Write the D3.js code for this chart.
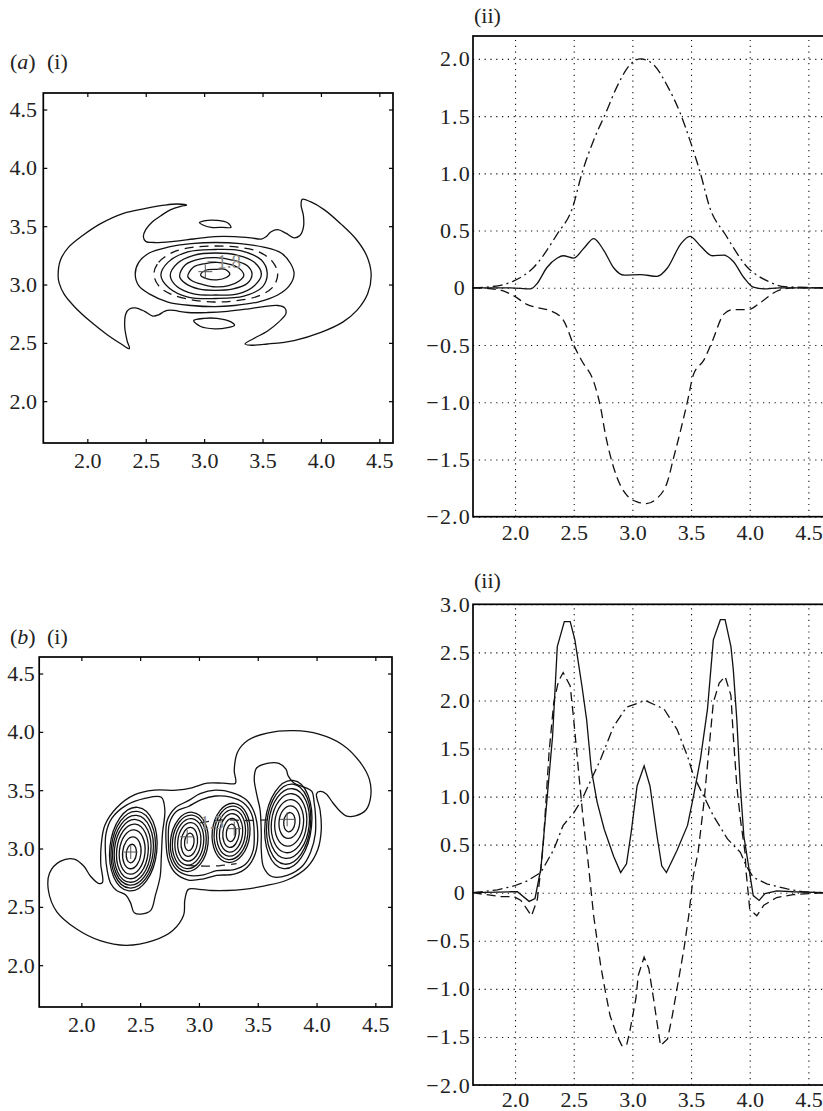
<!DOCTYPE html>
<html>
<head>
<meta charset="utf-8">
<script src="https://cdn.jsdelivr.net/npm/d3@7"></script>
<style>
body { margin: 0; background: #fff; }
text { font-family: "Liberation Serif", "Times New Roman", serif; font-size: 22px; fill: #222; }
.ylab text { letter-spacing: 1.2px; }
</style>
</head>
<body>
<svg id="fig" width="823" height="1111"></svg>
<script>
var svg = d3.select("#fig");

// tick values
var contourTicks = [2.0, 2.5, 3.0, 3.5, 4.0, 4.5];
var profileXTicks = [2.0, 2.5, 3.0, 3.5, 4.0, 4.5];
var profileYTicksA = [-2.0, -1.5, -1.0, -0.5, 0, 0.5, 1.0, 1.5, 2.0];
var profileYTicksB = [-2.0, -1.5, -1.0, -0.5, 0, 0.5, 1.0, 1.5, 2.0, 2.5, 3.0];

// (a)(i) contour lines, [x, y]
var aBat = [[1.75,3.07],[1.77,3.21],[1.84,3.32],[1.96,3.42],[2.11,3.52],[2.31,3.61],[2.49,3.65],[2.66,3.68],[2.77,3.69],[2.85,3.68],
  [2.80,3.67],[2.71,3.64],[2.63,3.59],[2.56,3.54],[2.50,3.47],[2.48,3.41],[2.50,3.37],[2.57,3.36],[2.74,3.37],[2.91,3.39],
  [3.09,3.41],[3.26,3.41],[3.40,3.40],[3.49,3.39],[3.53,3.41],[3.57,3.45],[3.63,3.47],[3.70,3.44],[3.77,3.40],[3.82,3.42],
  [3.85,3.49],[3.85,3.59],[3.83,3.68],[3.84,3.73],[3.91,3.71],[4.03,3.64],[4.17,3.52],[4.30,3.39],[4.39,3.25],[4.43,3.09],
  [4.40,2.92],[4.31,2.78],[4.19,2.68],[4.00,2.59],[3.77,2.52],[3.54,2.49],[3.39,2.48],[3.35,2.49],[3.43,2.54],[3.54,2.60],
  [3.64,2.68],[3.70,2.75],[3.69,2.80],[3.63,2.82],[3.51,2.81],[3.37,2.79],[3.20,2.77],[3.03,2.76],[2.86,2.76],[2.71,2.78],
  [2.66,2.77],[2.61,2.74],[2.56,2.73],[2.49,2.77],[2.41,2.80],[2.36,2.79],[2.33,2.75],[2.32,2.64],[2.34,2.52],[2.36,2.45],
  [2.29,2.49],[2.17,2.57],[2.03,2.68],[1.89,2.81],[1.80,2.92],[1.76,3.01]];
var aLensTop = [[2.96,3.53],[3.03,3.55],[3.11,3.55],[3.20,3.53],[3.23,3.49],[3.16,3.49],[3.06,3.49],[2.99,3.51]];
var aLensBottom = [[2.91,2.69],[3.00,2.71],[3.11,2.71],[3.23,2.68],[3.26,2.65],[3.20,2.63],[3.09,2.62],[2.97,2.64]];
var aOuterRing = [[2.41,3.09],[2.44,3.19],[2.53,3.27],[2.69,3.32],[2.89,3.35],[3.10,3.36],[3.31,3.35],[3.51,3.32],[3.66,3.27],[3.74,3.18],
  [3.77,3.09],[3.73,2.99],[3.63,2.91],[3.46,2.85],[3.26,2.82],[3.09,2.81],[2.89,2.82],[2.69,2.85],[2.53,2.92],[2.44,2.99]];
var aDashedRing = [[2.57,3.09],[2.61,3.19],[2.74,3.28],[2.91,3.32],[3.10,3.33],[3.29,3.32],[3.47,3.28],[3.59,3.19],[3.63,3.09],[3.59,2.98],
  [3.46,2.90],[3.26,2.86],[3.09,2.85],[2.89,2.87],[2.71,2.92],[2.61,2.99]];
var aRing4 = [[2.63,3.08],[2.69,3.19],[2.86,3.28],[3.09,3.30],[3.31,3.29],[3.49,3.21],[3.54,3.10],[3.50,2.98],[3.34,2.90],[3.10,2.88],[2.87,2.89],[2.70,2.97]];
var aRing3 = [[2.71,3.08],[2.77,3.18],[2.91,3.25],[3.10,3.27],[3.29,3.25],[3.43,3.19],[3.49,3.09],[3.43,2.99],[3.29,2.92],[3.10,2.91],[2.91,2.92],[2.77,2.98]];
var aRing2 = [[2.79,3.07],[2.84,3.17],[2.97,3.22],[3.10,3.23],[3.24,3.21],[3.37,3.16],[3.41,3.09],[3.37,3.01],[3.24,2.96],[3.10,2.95],[2.96,2.96],[2.84,3.01]];
var aRing1 = [[2.86,3.07],[2.91,3.15],[3.01,3.18],[3.11,3.19],[3.23,3.17],[3.31,3.13],[3.34,3.08],[3.30,3.03],[3.21,2.99],[3.10,2.98],[2.99,3.00],[2.90,3.03]];
var aRing0 = [[2.97,3.08],[3.01,3.12],[3.10,3.13],[3.18,3.13],[3.22,3.09],[3.19,3.06],[3.11,3.04],[3.02,3.05]];
var aCrosses = [[3.01,3.11]];
var aNotes = [{text: "\u22121.8", x: 3.02, y: 3.14}];

// (b)(i) contour lines
var bOuter = [[3.31,3.56],[3.30,3.67],[3.33,3.83],[3.42,3.93],[3.58,3.99],[3.81,4.01],[4.02,3.98],[4.22,3.89],[4.37,3.74],[4.45,3.59],
  [4.46,3.44],[4.42,3.33],[4.33,3.28],[4.25,3.28],[4.20,3.32],[4.14,3.39],[4.08,3.47],[4.03,3.49],[4.00,3.47],[4.03,3.33],
  [4.04,3.16],[4.01,2.99],[3.92,2.84],[3.75,2.73],[3.56,2.68],[3.38,2.65],[3.24,2.64],[3.11,2.64],[3.00,2.65],[2.91,2.65],
  [2.88,2.56],[2.87,2.43],[2.78,2.30],[2.61,2.21],[2.38,2.17],[2.16,2.21],[1.96,2.31],[1.79,2.46],[1.72,2.64],[1.73,2.79],
  [1.82,2.89],[1.94,2.91],[2.02,2.85],[2.08,2.76],[2.15,2.70],[2.18,2.71],[2.165,2.87],[2.17,3.04],[2.20,3.20],[2.30,3.35],
  [2.45,3.46],[2.62,3.50],[2.81,3.50],[2.94,3.52],[3.07,3.56],[3.21,3.56]];
var bLeftLoop = [[2.205,2.96],[2.21,3.13],[2.26,3.26],[2.38,3.37],[2.54,3.43],[2.68,3.44],[2.71,3.33],[2.69,3.13],[2.68,2.93],[2.67,2.76],
  [2.63,2.60],[2.59,2.47],[2.52,2.44],[2.45,2.45],[2.42,2.53],[2.38,2.60],[2.30,2.64],[2.25,2.70],[2.22,2.81]];
var bMidLoop = [[2.72,3.06],[2.73,3.24],[2.80,3.35],[2.91,3.41],[3.01,3.47],[3.14,3.50],[3.28,3.48],[3.40,3.42],[3.47,3.31],[3.50,3.13],
  [3.48,2.96],[3.41,2.84],[3.30,2.78],[3.15,2.77],[3.04,2.74],[2.91,2.73],[2.80,2.79],[2.74,2.90]];
var bMidInner = [[2.74,3.06],[2.75,3.22],[2.81,3.32],[2.91,3.36],[3.02,3.42],[3.14,3.45],[3.27,3.44],[3.38,3.39],[3.45,3.29],[3.47,3.13],
  [3.46,2.98],[3.40,2.87],[3.30,2.82],[3.15,2.81],[3.04,2.775],[2.91,2.77],[2.81,2.82],[2.755,2.92]];
var bRightLoop = [[3.53,3.13],[3.52,3.33],[3.49,3.47],[3.47,3.60],[3.49,3.69],[3.58,3.73],[3.68,3.73],[3.74,3.68],[3.76,3.62],[3.81,3.56],
  [3.91,3.52],[3.96,3.49],[3.98,3.39],[3.99,3.30],[3.99,3.13],[3.95,2.97],[3.88,2.85],[3.75,2.77],[3.62,2.76],[3.55,2.84],[3.53,2.99]];
// vortex cores: [cx, cy, rx, ry]
var bRings1 = [[2.425,2.957,0.043,0.080],[2.429,2.963,0.078,0.137],[2.432,2.970,0.109,0.190],[2.434,2.975,0.134,0.235],
  [2.436,2.980,0.155,0.270],[2.439,2.985,0.172,0.300],[2.441,2.990,0.187,0.330],[2.442,2.995,0.200,0.360]];
var bRings2 = [[2.918,3.057,0.040,0.075],[2.918,3.057,0.070,0.125],[2.918,3.057,0.098,0.165],[2.918,3.057,0.122,0.200],
  [2.918,3.057,0.143,0.230],[2.918,3.057,0.160,0.255]];
var bRings3 = [[3.273,3.134,0.040,0.075],[3.273,3.134,0.070,0.125],[3.273,3.134,0.098,0.165],[3.273,3.134,0.122,0.200],
  [3.273,3.134,0.143,0.230],[3.273,3.134,0.160,0.255]];
var bRings4 = [[3.769,3.226,0.048,0.083],[3.769,3.226,0.088,0.140],[3.767,3.220,0.122,0.200],[3.766,3.217,0.150,0.254],
  [3.766,3.214,0.172,0.300],[3.763,3.209,0.186,0.345],[3.760,3.206,0.198,0.380]];
var bDashLow = [[2.89,2.855],[3.03,2.85],[3.17,2.852],[3.32,2.87]];
var bDashHigh = [[3.01,3.22],[3.20,3.245],[3.40,3.24],[3.58,3.245]];
var bCrosses = [[2.42,2.97],[2.90,3.10],[3.30,3.17],[3.75,3.25]];
var bNotes = [{text: "1.5", x: 3.01, y: 3.17}];

// (a)(ii) profiles
var aSolid = [[1.64,0],[1.96,0],[2.13,-0.01],[2.19,0.04],[2.27,0.175],[2.36,0.26],[2.41,0.28],[2.50,0.26],[2.59,0.35],[2.67,0.43],
  [2.76,0.32],[2.84,0.175],[2.93,0.11],[3.07,0.115],[3.21,0.10],[3.30,0.175],[3.41,0.38],[3.49,0.45],[3.58,0.365],[3.68,0.28],
  [3.78,0.285],[3.86,0.23],[3.95,0.09],[4.03,0.005],[4.12,-0.01],[4.25,0],[4.64,0]];
var aDashed = [[1.64,0],[1.85,-0.015],[1.99,-0.07],[2.10,-0.145],[2.22,-0.18],[2.30,-0.20],[2.41,-0.28],[2.50,-0.50],[2.57,-0.64],[2.67,-0.82],
  [2.73,-1.05],[2.77,-1.28],[2.81,-1.46],[2.87,-1.66],[2.95,-1.81],[3.04,-1.87],[3.12,-1.885],[3.21,-1.84],[3.30,-1.69],[3.35,-1.49],
  [3.41,-1.25],[3.47,-0.99],[3.52,-0.76],[3.61,-0.63],[3.68,-0.47],[3.78,-0.23],[3.86,-0.19],[3.99,-0.19],[4.09,-0.13],[4.23,-0.03],
  [4.37,0],[4.64,0]];
var aDashDot = [[1.64,0],[1.80,0.01],[1.99,0.06],[2.16,0.18],[2.36,0.47],[2.49,0.70],[2.57,1.0],[2.67,1.29],[2.77,1.52],[2.87,1.76],
  [2.98,1.95],[3.07,2.0],[3.18,1.95],[3.30,1.76],[3.41,1.52],[3.49,1.29],[3.58,1.0],[3.66,0.70],[3.79,0.47],[3.98,0.18],
  [4.15,0.06],[4.30,0.01],[4.64,0]];

// (b)(ii) profiles
var bSolid = [[1.64,0],[1.97,0.01],[2.02,0.01],[2.12,-0.09],[2.17,-0.06],[2.22,0.25],[2.27,0.94],[2.32,1.63],[2.36,2.56],[2.42,2.82],
  [2.47,2.82],[2.51,2.63],[2.57,2.15],[2.61,1.80],[2.65,1.28],[2.70,0.94],[2.76,0.66],[2.84,0.38],[2.90,0.21],[2.95,0.30],
  [2.99,0.63],[3.04,1.11],[3.10,1.32],[3.15,1.11],[3.21,0.59],[3.25,0.28],[3.29,0.21],[3.38,0.44],[3.47,0.70],[3.52,1.0],
  [3.58,1.39],[3.64,1.91],[3.69,2.63],[3.75,2.84],[3.79,2.84],[3.84,2.56],[3.86,2.32],[3.89,1.80],[3.92,1.11],[3.95,0.59],
  [3.99,0.28],[4.03,-0.03],[4.08,-0.08],[4.13,-0.01],[4.23,0.02],[4.37,0.01],[4.64,0]];
var bDashed = [[1.64,0],[1.87,-0.04],[1.99,-0.04],[2.05,-0.08],[2.09,-0.15],[2.14,-0.24],[2.19,-0.07],[2.22,0.25],[2.24,0.50],[2.29,1.46],
  [2.33,1.98],[2.37,2.20],[2.41,2.29],[2.47,2.15],[2.50,1.80],[2.54,1.28],[2.58,0.77],[2.62,0.35],[2.67,-0.24],[2.73,-0.76],
  [2.77,-1.03],[2.81,-1.28],[2.87,-1.49],[2.91,-1.59],[2.95,-1.59],[2.98,-1.43],[3.03,-1.10],[3.05,-0.86],[3.10,-0.67],[3.14,-0.79],
  [3.18,-1.10],[3.21,-1.35],[3.24,-1.59],[3.30,-1.52],[3.34,-1.28],[3.38,-1.00],[3.44,-0.58],[3.48,-0.24],[3.52,0.18],[3.56,0.42],
  [3.61,0.94],[3.65,1.46],[3.69,1.98],[3.74,2.18],[3.79,2.25],[3.84,2.05],[3.86,1.63],[3.89,1.11],[3.92,0.77],[3.96,0.42],
  [3.97,0.21],[4.00,-0.17],[4.06,-0.24],[4.12,-0.13],[4.23,-0.05],[4.37,-0.02],[4.64,0]];
var bDashDot = [[1.64,0],[1.85,0.03],[1.99,0.07],[2.10,0.12],[2.22,0.21],[2.33,0.45],[2.41,0.70],[2.50,0.83],[2.57,0.97],[2.65,1.18],
  [2.73,1.39],[2.84,1.73],[2.95,1.93],[3.11,2.0],[3.27,1.91],[3.38,1.70],[3.47,1.42],[3.52,1.22],[3.61,1.0],[3.69,0.80],
  [3.81,0.56],[3.92,0.42],[3.97,0.28],[4.03,0.16],[4.15,0.09],[4.32,0.04],[4.45,0.01],[4.64,0]];

var fmt = d3.format(".1f");
var fmtSigned = function (v) { return v === 0 ? "0" : fmt(v).replace("-", "\u2212"); };

// scales
var a1x = d3.scaleLinear().domain([1.623, 4.617]).range([43.3, 393]);
var a1y = d3.scaleLinear().domain([1.6416, 4.6416]).range([443, 93]);
var b1x = d3.scaleLinear().domain([1.6416, 4.6416]).range([39.2, 392]);
var b1y = d3.scaleLinear().domain([1.6416, 4.6416]).range([1007, 657]);
var a2x = d3.scaleLinear().domain([1.6416, 4.6416]).range([473, 825]);
var a2y = d3.scaleLinear().domain([-2, 2.2]).range([516.7, 36]);
var b2x = d3.scaleLinear().domain([1.6416, 4.6416]).range([473, 825]);
var b2y = d3.scaleLinear().domain([-2, 3]).range([1085, 604.3]);

function contourFrame(x, y, pad) {
    var g = svg.append("g");
    var x0 = x.range()[0], x1 = x.range()[1], yb = y.range()[0], yt = y.range()[1];
    g.append("g").attr("transform", "translate(0," + yb + ")")
        .call(d3.axisBottom(x).tickValues(contourTicks).tickSize(-4).tickPadding(9.4).tickFormat(fmt));
    g.append("g").attr("transform", "translate(0," + yt + ")")
        .call(d3.axisTop(x).tickValues(contourTicks).tickSize(-4).tickFormat(""));
    g.append("g").attr("transform", "translate(" + x0 + ",0)")
        .call(d3.axisLeft(y).tickValues(contourTicks).tickSize(-4).tickPadding(pad).tickFormat(fmt));
    g.append("g").attr("transform", "translate(" + x1 + ",0)")
        .call(d3.axisRight(y).tickValues(contourTicks).tickSize(-4).tickFormat(""));
    g.selectAll(".domain").remove();
    g.selectAll(".tick line").attr("stroke-width", 1.2);
    g.append("rect").attr("x", x0).attr("y", yt).attr("width", x1 - x0).attr("height", yb - yt)
        .attr("fill", "none").attr("stroke", "#000").attr("stroke-width", 1.7);
    return g;
}

function closedLine(x, y) {
    return d3.line().x(function (d) { return x(d[0]); }).y(function (d) { return y(d[1]); })
        .curve(d3.curveCatmullRomClosed.alpha(0.5));
}

function drawLoops(g, loops, x, y, dash) {
    var line = closedLine(x, y);
    loops.forEach(function (pts) {
        g.append("path").attr("d", line(pts)).attr("fill", "none").attr("stroke", "#111")
            .attr("stroke-width", 1.3).attr("stroke-dasharray", dash || null);
    });
}

function drawRings(g, rings, x, y) {
    g.selectAll(null).data(rings).join("ellipse")
        .attr("cx", function (d) { return x(d[0]); })
        .attr("cy", function (d) { return y(d[1]); })
        .attr("rx", function (d) { return x(d[0] + d[2]) - x(d[0]); })
        .attr("ry", function (d) { return y(d[1] - d[3]) - y(d[1]); })
        .attr("transform", function (d) { return "rotate(6," + x(d[0]) + "," + y(d[1]) + ")"; })
        .attr("fill", "none").attr("stroke", "#111").attr("stroke-width", 1.3);
}

function drawCrosses(g, pts, x, y) {
    pts.forEach(function (p) {
        var cx = x(p[0]), cy = y(p[1]);
        g.append("path").attr("d", "M" + (cx - 7) + "," + cy + "H" + (cx + 7) + "M" + cx + "," + (cy - 7) + "V" + (cy + 7))
            .attr("stroke", "#555").attr("stroke-width", 1);
    });
}

function drawNotes(g, notes, x, y) {
    g.selectAll(null).data(notes).join("text")
        .attr("x", function (d) { return x(d.x); })
        .attr("y", function (d) { return y(d.y); })
        .style("font-size", "19px").style("fill", "#8a8a8a")
        .text(function (d) { return d.text; });
}

// ---- (a)(i)
var gA1 = contourFrame(a1x, a1y, 6.3);
drawLoops(gA1, [aBat, aLensTop, aLensBottom, aOuterRing, aRing4, aRing3, aRing2, aRing1, aRing0], a1x, a1y);
drawLoops(gA1, [aDashedRing], a1x, a1y, "9,6");
drawNotes(gA1, aNotes, a1x, a1y);
drawCrosses(gA1, aCrosses, a1x, a1y);

// ---- (b)(i)
var gB1 = contourFrame(b1x, b1y, 4.5);
drawLoops(gB1, [bOuter, bLeftLoop, bMidLoop, bMidInner, bRightLoop], b1x, b1y);
drawRings(gB1, bRings1, b1x, b1y);
drawRings(gB1, bRings2, b1x, b1y);
drawRings(gB1, bRings3, b1x, b1y);
drawRings(gB1, bRings4, b1x, b1y);
var openLine = d3.line().x(function (d) { return b1x(d[0]); }).y(function (d) { return b1y(d[1]); }).curve(d3.curveCatmullRom);
[bDashLow, bDashHigh].forEach(function (pts) {
    gB1.append("path").attr("d", openLine(pts)).attr("fill", "none").attr("stroke", "#222")
        .attr("stroke-width", 1.3).attr("stroke-dasharray", "9,6");
});
drawNotes(gB1, bNotes, b1x, b1y);
drawCrosses(gB1, bCrosses, b1x, b1y);

// ---- profile panels
function profilePanel(x, y, yTicks, series, curve, labelPad) {
    var g = svg.append("g");
    var x0 = x.range()[0], x1 = x.range()[1], yb = y.range()[0], yt = y.range()[1];
    g.append("g").attr("class", "grid").attr("transform", "translate(0," + yb + ")")
        .call(d3.axisBottom(x).tickValues(profileXTicks).tickSize(-(yb - yt)).tickPadding(labelPad).tickFormat(fmt));
    var yAxis = g.append("g").attr("class", "grid ylab").attr("transform", "translate(" + x0 + ",0)")
        .call(d3.axisLeft(y).tickValues(yTicks).tickSize(-(x1 - x0)).tickPadding(2).tickFormat(fmtSigned));
    yAxis.selectAll(".tick text").filter(function (d) { return d === 0; }).attr("x", -7);
    g.selectAll(".domain").remove();
    g.selectAll(".grid .tick line").attr("stroke", "#111").attr("stroke-width", 1.1).attr("stroke-dasharray", "1.2,4.6");
    var line = d3.line().x(function (d) { return x(d[0]); }).y(function (d) { return y(d[1]); }).curve(curve);
    series.forEach(function (s) {
        g.append("path").attr("d", line(s.data)).attr("fill", "none").attr("stroke", "#111")
            .attr("stroke-width", 1.3).attr("stroke-dasharray", s.dash);
    });
    g.append("rect").attr("x", x0).attr("y", yt).attr("width", x1 - x0).attr("height", yb - yt)
        .attr("fill", "none").attr("stroke", "#000").attr("stroke-width", 1.7);
    return g;
}

profilePanel(a2x, a2y, profileYTicksA, [
    {data: aDashDot, dash: "10,4,2,4"},
    {data: aDashed, dash: "9,5"},
    {data: aSolid, dash: null}
], d3.curveMonotoneX, 7.7);

profilePanel(b2x, b2y, profileYTicksB, [
    {data: bDashDot, dash: "10,4,2,4"},
    {data: bDashed, dash: "9,5"},
    {data: bSolid, dash: null}
], d3.curveLinear, 6.6);

// panel labels
function panelLabel(x, y, letter, roman) {
    var t = svg.append("text").attr("x", x).attr("y", y);
    if (letter) {
        t.append("tspan").text("(");
        t.append("tspan").style("font-style", "italic").text(letter);
        t.append("tspan").text(")");
        svg.append("text").attr("x", x + 37).attr("y", y).text(roman);
    } else {
        t.text(roman);
    }
}
panelLabel(10, 69, "a", "(i)");
panelLabel(474, 23, null, "(ii)");
panelLabel(10, 644, "b", "(i)");
panelLabel(474, 588, null, "(ii)");
</script>
</body>
</html>
